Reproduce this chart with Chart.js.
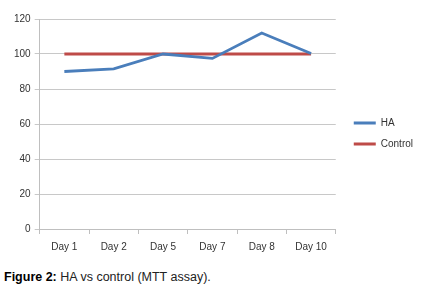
<!DOCTYPE html>
<html>
<head>
<meta charset="utf-8">
<script src="https://cdn.jsdelivr.net/npm/chart.js@4.4.1/dist/chart.umd.min.js"></script>
<style>
  html, body { margin: 0; padding: 0; background: #fff; }
  #wrap { position: absolute; left: 0; top: 0; width: 421px; height: 260px; }
  #caption {
    position: absolute; left: 4px; top: 270px;
    font-family: "Liberation Sans", Arial, sans-serif; font-size: 12.5px; color: #222;
  }
  #caption b { color: #000; }
</style>
</head>
<body>
<div id="wrap"><canvas id="chart_ha"></canvas></div>
<div id="caption"><b>Figure 2:</b> HA vs control (MTT assay).</div>
<script>
// values
const days = ["Day 1", "Day 2", "Day 5", "Day 7", "Day 8", "Day 10"];
const ha_values = [90, 91.5, 100, 97.5, 112, 100.3];
const control_values = [100, 100, 100, 100, 100, 100];
const y_ticks = [0, 20, 40, 60, 80, 100, 120];

const ctx_ha = document.getElementById("chart_ha");

// nudge the legend a bit right/up, like the excel one
const legendNudge = {
    id: "legendNudge",
    afterLayout(chart) {
        const lg = chart.legend;
        if (!lg) return;
        lg.left += 7; lg.right += 7;
        lg.top -= 6; lg.bottom -= 6;
    }
};

new Chart(ctx_ha, {
    type: "line",
    data: {
        labels: days,
        datasets: [{
            label: "HA",
            data: ha_values,
            borderColor: "#4a7ebb",
            backgroundColor: "#4a7ebb",
            borderWidth: 2.8,
            pointRadius: 0,
            tension: 0,
        }, {
            label: "Control",
            data: control_values,
            borderColor: "#be4b48",
            backgroundColor: "#be4b48",
            borderWidth: 2.8,
            pointRadius: 0,
            tension: 0,
        }]
    },
    options: {
        responsive: true,
        maintainAspectRatio: false,
        animation: false,
        layout: { padding: { left: 10, top: 19, right: 5, bottom: 0 } },
        plugins: {
            tooltip: { enabled: false },
            legend: {
                position: "right",
                labels: {
                    usePointStyle: true,
                    pointStyle: "line",
                    pointStyleWidth: 22,
                    boxHeight: 10,
                    padding: 11,
                    color: "#333",
                    font: { family: "Liberation Sans", size: 10 },
                }
            }
        },
        scales: {
            x: {
                offset: true,
                border: { color: "#bfbfbf", width: 1 },
                grid: {
                    offset: true,
                    drawOnChartArea: false,
                    drawTicks: true,
                    tickLength: 5,
                    color: "#bfbfbf",
                },
                ticks: {
                    color: "#333",
                    padding: 7,
                    font: { family: "Liberation Sans", size: 10 },
                }
            },
            y: {
                min: 0,
                max: 120,
                afterBuildTicks: (axis) => { axis.ticks = y_ticks.map(v => ({ value: v })); },
                border: { color: "#bfbfbf", width: 1 },
                grid: { color: "#c8c8c8", tickLength: 5 },
                ticks: {
                    color: "#333",
                    padding: 4,
                    font: { family: "Liberation Sans", size: 10 },
                }
            }
        }
    },
    plugins: [legendNudge]
});
</script>
</body>
</html>
